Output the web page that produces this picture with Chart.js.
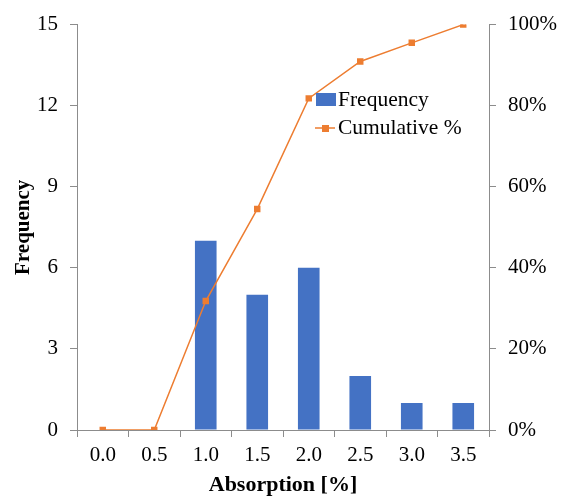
<!DOCTYPE html>
<html>
<head>
<meta charset="utf-8">
<script src="https://cdn.jsdelivr.net/npm/chart.js@4"></script>
<style>
  html, body { margin: 0; padding: 0; background: #fff; }
  #wrap { width: 569px; height: 501px; }
</style>
</head>
<body>
<div id="wrap"><canvas id="histChart" width="569" height="501"></canvas></div>
<script>
const bins = ['0.0', '0.5', '1.0', '1.5', '2.0', '2.5', '3.0', '3.5'];
const frequency = [0, 0, 7, 5, 6, 2, 1, 1];
const cumulativePct = [0, 0, 31.8, 54.5, 81.8, 90.9, 95.5, 100];
const freqTicks = [0, 3, 6, 9, 12, 15];
const pctTicks = [0, 20, 40, 60, 80, 100];

const FONT = '"Liberation Serif", "Times New Roman", serif';
const AXIS = '#8c8c8c';

// legend sits inside the plot, so draw it by hand
const insideLegend = {
    id: 'insideLegend',
    afterDraw(chart) {
        const ctx = chart.ctx;
        const bar = chart.data.datasets.find(d => d.type === 'bar');
        const line = chart.data.datasets.find(d => d.type === 'line');
        ctx.save();
        ctx.font = '21.5px ' + FONT;
        ctx.textBaseline = 'middle';

        ctx.fillStyle = bar.backgroundColor;
        ctx.fillRect(316, 93, 20, 13);
        ctx.fillStyle = '#000';
        ctx.fillText(bar.label, 338, 100);

        ctx.strokeStyle = line.borderColor;
        ctx.lineWidth = 1.5;
        ctx.beginPath();
        ctx.moveTo(315, 128);
        ctx.lineTo(335, 128);
        ctx.stroke();
        ctx.fillStyle = line.borderColor;
        ctx.fillRect(322, 125, 7, 7);
        ctx.fillStyle = '#000';
        ctx.fillText(line.label, 338, 128);
        ctx.restore();
    }
};

const ctx = document.getElementById('histChart').getContext('2d');
new Chart(ctx, {
    data: {
        labels: bins,
        datasets: [{
            type: 'line',
            label: 'Cumulative %',
            data: cumulativePct,
            yAxisID: 'yPct',
            borderColor: '#ED7D31',
            backgroundColor: '#ED7D31',
            borderWidth: 1.5,
            pointStyle: 'rect',
            pointRadius: 3.5,
            tension: 0,
            order: 0
        }, {
            type: 'bar',
            label: 'Frequency',
            data: frequency,
            yAxisID: 'y',
            backgroundColor: '#4472C4',
            categoryPercentage: 1,
            barPercentage: 0.42,
            order: 1
        }]
    },
    options: {
        responsive: false,
        animation: false,
        layout: { padding: { top: 20, left: 0, right: 0, bottom: 0 } },
        plugins: {
            legend: { display: false },
            tooltip: { enabled: false }
        },
        scales: {
            x: {
                offset: true,
                grid: { offset: true, drawOnChartArea: false, tickLength: 7, color: AXIS },
                border: { color: AXIS },
                ticks: { color: '#000', font: { family: FONT, size: 21 }, padding: 6, maxRotation: 0 },
                title: { display: true, text: 'Absorption [%]', color: '#000',
                         font: { family: FONT, size: 22, weight: 'bold' }, padding: { top: 2, bottom: 2 } },
                afterFit(scale) { scale.height = 71; }
            },
            y: {
                position: 'left',
                min: 0, max: 15,
                afterBuildTicks(scale) { scale.ticks = freqTicks.map(v => ({ value: v })); },
                grid: { drawOnChartArea: false, tickLength: 7, color: AXIS },
                border: { color: AXIS },
                ticks: { color: '#000', font: { family: FONT, size: 21 }, padding: 12 },
                title: { display: true, text: 'Frequency', color: '#000',
                         font: { family: FONT, size: 21, weight: 'bold' }, padding: { top: 11, bottom: 0 } },
                afterFit(scale) { scale.width = 77; }
            },
            yPct: {
                position: 'right',
                min: 0, max: 100,
                afterBuildTicks(scale) { scale.ticks = pctTicks.map(v => ({ value: v })); },
                grid: { drawOnChartArea: false, tickLength: 7, color: AXIS },
                border: { color: AXIS },
                ticks: { color: '#000', font: { family: FONT, size: 21 }, padding: 12,
                         callback: v => v + '%' },
                afterFit(scale) { scale.width = 80; }
            }
        }
    },
    plugins: [insideLegend]
});
</script>
</body>
</html>
